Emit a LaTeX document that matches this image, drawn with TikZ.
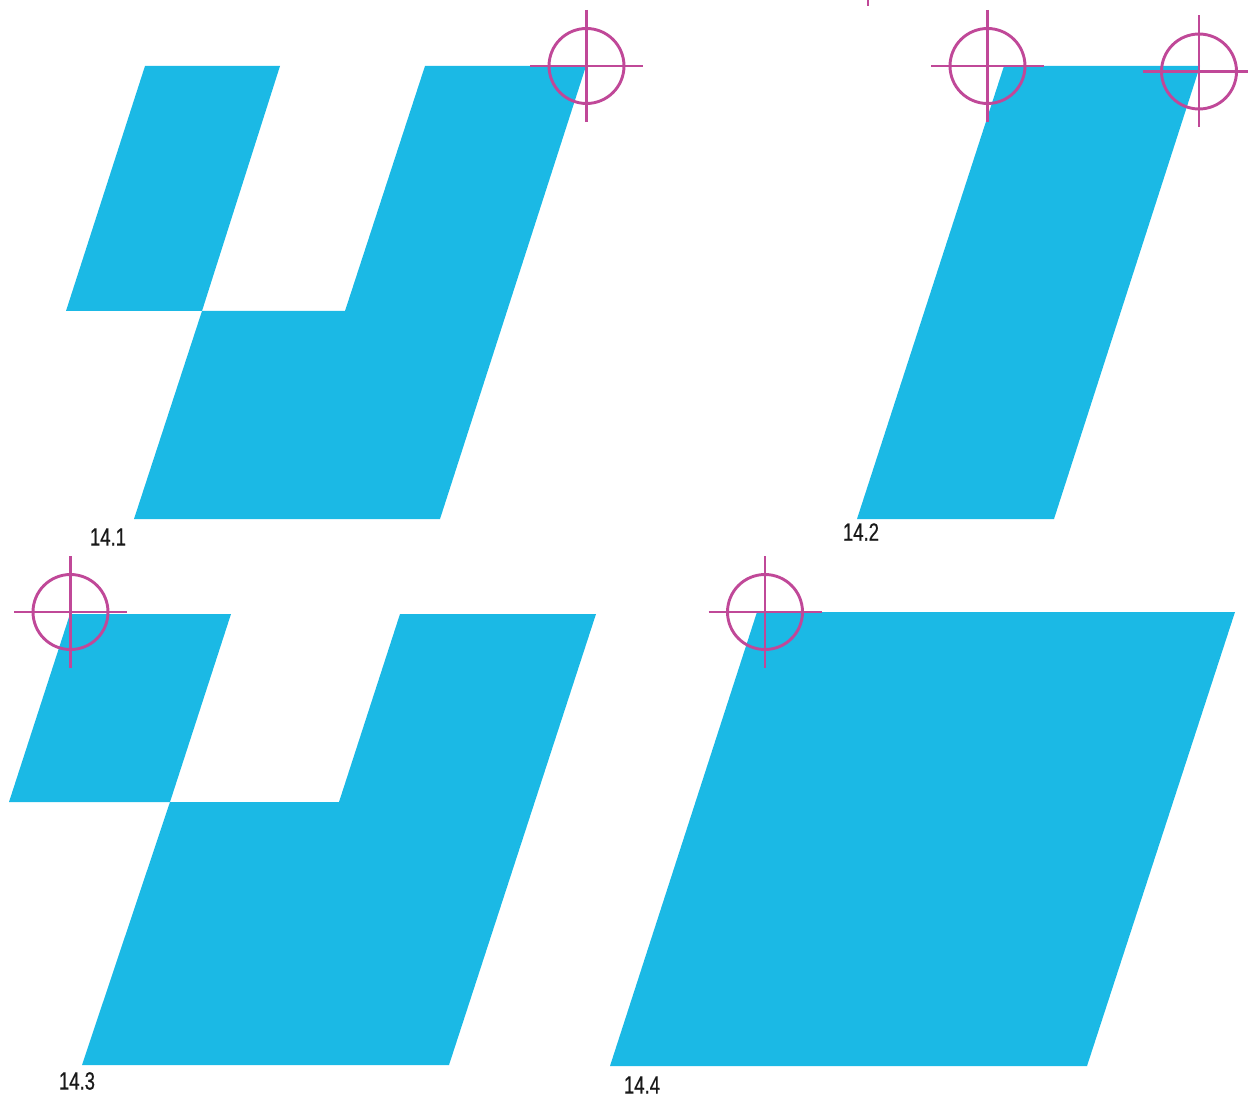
\documentclass[tikz,border=0pt]{standalone}
\usepackage{fontspec}
\setmainfont{Liberation Sans}
\newfontfamily\labelfont[FakeBold=0.6]{Liberation Sans}
\definecolor{fillblue}{RGB}{27,185,229}
\definecolor{regmag}{RGB}{192,72,152}
\tikzset{
  shapefill/.style={fill=fillblue, draw=none},
  xhair/.pic={
    \draw[regmag, line width=2.9pt] (0,0) circle (37.5);
    \draw[regmag, line width=2.9pt] (-56.5,0) -- (56.5,0);
    \draw[regmag, line width=2.9pt] (0,-56) -- (0,56);
  },
  figlabel/.style={font=\labelfont\fontsize{25}{27}\selectfont, inner sep=0pt, text=black!90}
}
\newcommand{\condensed}[1]{\scalebox{0.74}[1]{#1}}
\begin{document}
\begin{tikzpicture}[x=1pt,y=-1pt]
\useasboundingbox (0,0) rectangle (1248,1099);
\clip (0,0) rectangle (1248,1099);
% 14.1
\fill[shapefill] (145,66) -- (280,66) -- (202,311) -- (66,311) -- cycle;
\fill[shapefill] (425,66) -- (586,66) -- (440,519) -- (134,519) -- (202,311) -- (345,311) -- cycle;
\pic at (586.5,66) {xhair};
\node[figlabel] (l1) at (108,537) {\condensed{14.1}};
% 14.2
\fill[shapefill] (1004,66) -- (1200,66) -- (1054,519) -- (857,519) -- cycle;
\pic at (987.5,66) {xhair};
\pic at (1199,71.5) {xhair};
\node[figlabel] (l2) at (861,532) {\condensed{14.2}};
% tick at top
\draw[regmag, line width=2.9pt] (868,0) -- (868,6);
% 14.3
\fill[shapefill] (70,614) -- (231,614) -- (170,802) -- (9,802) -- cycle;
\fill[shapefill] (400,614) -- (596,614) -- (449,1065) -- (82,1065) -- (170,802) -- (339,802) -- cycle;
\pic at (70.5,612) {xhair};
\node[figlabel] (l3) at (77,1081) {\condensed{14.3}};
% 14.4
\fill[shapefill] (757,612) -- (1235,612) -- (1087,1066) -- (610,1066) -- cycle;
\pic at (765,612) {xhair};
\node[figlabel] (l4) at (642,1085) {\condensed{14.4}};
\end{tikzpicture}
\end{document}
